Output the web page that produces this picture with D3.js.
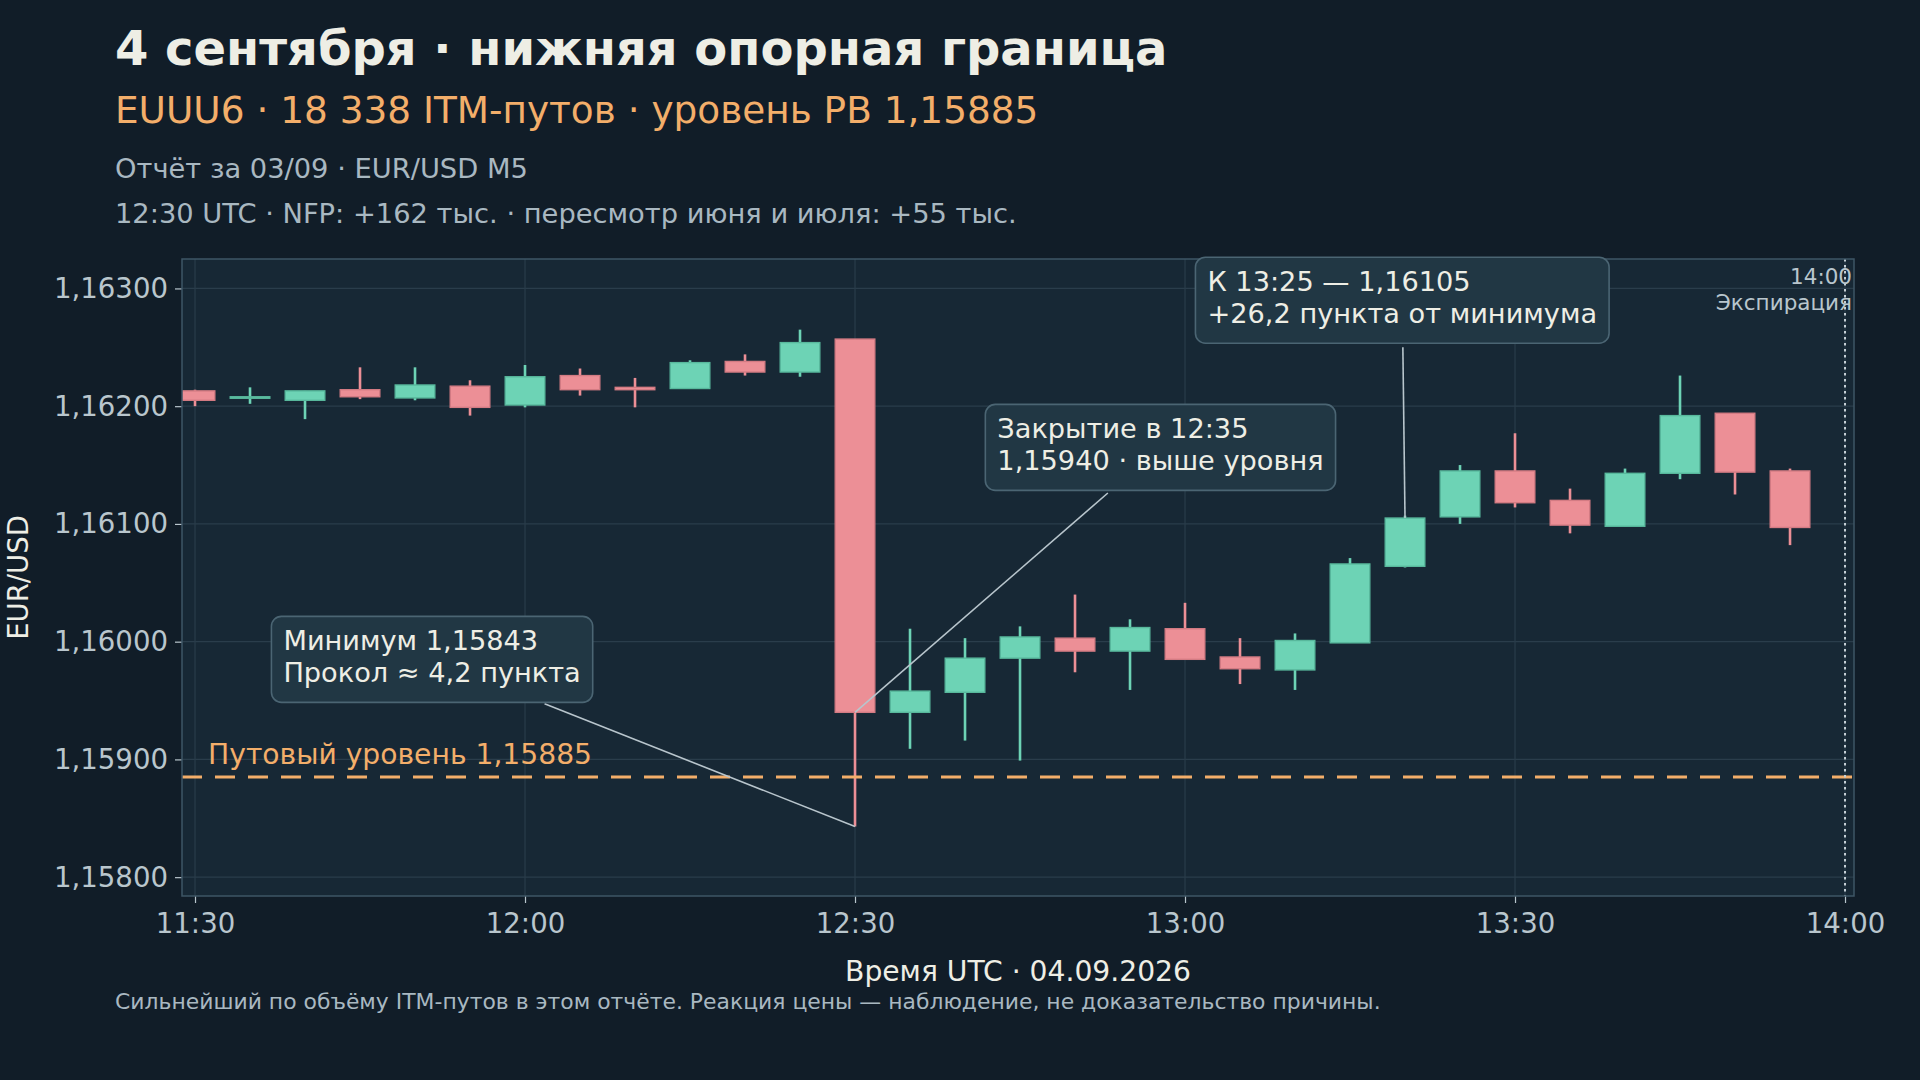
<!DOCTYPE html>
<html lang="ru">
<head>
<meta charset="utf-8">
<title>EUUU6 · нижняя опорная граница</title>
<script src="https://cdn.jsdelivr.net/npm/d3@7"></script>
<style>
  html, body { margin: 0; padding: 0; background: #111d28; }
  #chart svg { display: block; }
</style>
</head>
<body>
<div id="chart"></div>
<script>
// 5-минутные свечи EUR/USD, 04.09.2026
const times  = ['11:30','11:35','11:40','11:45','11:50','11:55','12:00','12:05','12:10','12:15',
                '12:20','12:25','12:30','12:35','12:40','12:45','12:50','12:55','13:00','13:05',
                '13:10','13:15','13:20','13:25','13:30','13:35','13:40','13:45','13:50','13:55'];
const opens  = [1.16213,1.16207,1.16205,1.16214,1.16207,1.16217,1.16201,1.16226,1.16216,1.16215,
                1.16238,1.16229,1.16257,1.15940,1.15957,1.15986,1.16003,1.15992,1.16011,1.15987,
                1.15976,1.15999,1.16064,1.16106,1.16145,1.16120,1.16098,1.16143,1.16194,1.16145];
const highs  = [1.16214,1.16216,1.16213,1.16233,1.16233,1.16222,1.16235,1.16232,1.16224,1.16239,
                1.16244,1.16265,1.16257,1.16011,1.16003,1.16013,1.16040,1.16019,1.16033,1.16003,
                1.16007,1.16071,1.16107,1.16150,1.16177,1.16130,1.16147,1.16226,1.16194,1.16147];
const lows   = [1.16200,1.16202,1.16189,1.16206,1.16205,1.16192,1.16199,1.16209,1.16199,1.16215,
                1.16226,1.16225,1.15843,1.15909,1.15916,1.15899,1.15974,1.15959,1.15985,1.15964,
                1.15959,1.15999,1.16063,1.16100,1.16114,1.16092,1.16098,1.16138,1.16125,1.16082];
const closes = [1.16205,1.16208,1.16213,1.16208,1.16218,1.16199,1.16225,1.16214,1.16214,1.16237,
                1.16229,1.16254,1.15940,1.15958,1.15986,1.16004,1.15992,1.16012,1.15985,1.15977,
                1.16001,1.16066,1.16105,1.16145,1.16118,1.16099,1.16143,1.16192,1.16144,1.16097];

const putLevel = 1.15885;
const expiry = '14:00';
const xDomain = ['11:28:49', '14:00:49'];
const yDomain = [1.15784, 1.16325];
const yTicks = [1.158, 1.159, 1.160, 1.161, 1.162, 1.163];
const xTicks = ['11:30', '12:00', '12:30', '13:00', '13:30', '14:00'];

const notes = [
  { lines: ['Минимум 1,15843', 'Прокол ≈ 4,2 пункта'],           at: ['11:51:33', 1.15985], target: ['12:30', 1.15843] },
  { lines: ['Закрытие в 12:35', '1,15940 · выше уровня'],         at: ['12:57:46', 1.16165], target: ['12:30', 1.15940] },
  { lines: ['К 13:25 — 1,16105', '+26,2 пункта от минимума'],     at: ['13:19:45', 1.16290], target: ['13:20', 1.16105] }
];

const parseTime = s => d3.utcParse('%Y-%m-%d %H:%M:%S')('2026-09-04 ' + (s.length === 5 ? s + ':00' : s));

const candles = times.map((t, i) => ({
  t: parseTime(t), o: opens[i], h: highs[i], l: lows[i], c: closes[i]
}));

const W = 1920, H = 1080;
const margin = { top: 259, right: 66, bottom: 184, left: 182 };
const iw = W - margin.left - margin.right;
const ih = H - margin.top - margin.bottom;

const C = {
  bg: '#111d28', plot: '#172835', grid: '#2a3d4b', frame: '#3e5665',
  tick: '#b9c6cd', title: '#eeeee5', orange: '#f3ae6a', muted: '#a9b8c1',
  up: '#6dd3b5', upEdge: '#58b89c', down: '#ec8f96', downEdge: '#d37b83',
  boxFill: '#213744', boxEdge: '#4b6573', pointer: '#b8c5cc'
};
const font = "'DejaVu Sans', sans-serif";

const svg = d3.select('#chart').append('svg')
  .attr('width', W).attr('height', H)
  .attr('viewBox', [0, 0, W, H])
  .style('font-family', font);

svg.append('rect').attr('width', W).attr('height', H).attr('fill', C.bg);

// Заголовки
const head = [
  { text: '4 сентября · нижняя опорная граница', y: 65, size: 48, weight: 'bold', fill: C.title },
  { text: 'EUUU6 · 18 338 ITM-путов · уровень РВ 1,15885', y: 123, size: 37.4, weight: 'normal', fill: C.orange },
  { text: 'Отчёт за 03/09 · EUR/USD M5', y: 178, size: 27.3, weight: 'normal', fill: C.muted },
  { text: '12:30 UTC · NFP: +162 тыс. · пересмотр июня и июля: +55 тыс.', y: 223, size: 27.3, weight: 'normal', fill: C.muted }
];
svg.append('g').selectAll('text').data(head).join('text')
  .attr('x', 115).attr('y', d => d.y)
  .attr('font-size', d => d.size).attr('font-weight', d => d.weight)
  .attr('fill', d => d.fill)
  .text(d => d.text);

const x = d3.scaleUtc().domain(xDomain.map(parseTime)).range([0, iw]);
const y = d3.scaleLinear().domain(yDomain).range([ih, 0]);

const g = svg.append('g').attr('transform', `translate(${margin.left},${margin.top})`);

g.append('rect').attr('width', iw).attr('height', ih).attr('fill', C.plot);

g.append('clipPath').attr('id', 'plot-clip')
  .append('rect').attr('width', iw).attr('height', ih);

// Сетка
g.append('g').selectAll('line').data(yTicks).join('line')
  .attr('x1', 0).attr('x2', iw)
  .attr('y1', d => y(d)).attr('y2', d => y(d))
  .attr('stroke', C.grid).attr('stroke-width', 1.2);
g.append('g').selectAll('line').data(xTicks.map(parseTime)).join('line')
  .attr('x1', d => x(d)).attr('x2', d => x(d))
  .attr('y1', 0).attr('y2', ih)
  .attr('stroke', C.grid).attr('stroke-width', 1.2);

// Оси
const fmtPrice = d => d3.format('.5f')(d).replace('.', ',');
const yAxis = g.append('g')
  .call(d3.axisLeft(y).tickValues(yTicks).tickFormat(fmtPrice).tickSize(7).tickPadding(7));
const xAxis = g.append('g').attr('transform', `translate(0,${ih})`)
  .call(d3.axisBottom(x).tickValues(xTicks.map(parseTime)).tickFormat(d3.utcFormat('%H:%M')).tickSize(7).tickPadding(10));
[yAxis, xAxis].forEach(a => {
  a.select('.domain').remove();
  a.selectAll('.tick line').attr('stroke', C.tick).attr('stroke-width', 1.2);
  a.selectAll('.tick text').attr('fill', C.tick).attr('font-size', 27.6).attr('font-family', font);
});

// Свечи
const step = 5 * 60 * 1000;
const bw = (x(new Date(+candles[0].t + step)) - x(candles[0].t)) * 0.72;
const cg = g.append('g').attr('clip-path', 'url(#plot-clip)');
const candle = cg.selectAll('g').data(candles).join('g');
candle.append('line')
  .attr('x1', d => x(d.t)).attr('x2', d => x(d.t))
  .attr('y1', d => y(d.h)).attr('y2', d => y(d.l))
  .attr('stroke', d => d.c >= d.o ? C.up : C.down)
  .attr('stroke-width', 2.6);
candle.append('rect')
  .attr('x', d => x(d.t) - bw / 2)
  .attr('width', bw)
  .attr('y', d => y(Math.max(d.o, d.c)))
  .attr('height', d => Math.max(1.5, Math.abs(y(d.o) - y(d.c))))
  .attr('fill', d => d.c >= d.o ? C.up : C.down)
  .attr('stroke', d => d.c >= d.o ? C.upEdge : C.downEdge)
  .attr('stroke-width', 1.4);

// Путовый уровень
g.append('line')
  .attr('x1', 0).attr('x2', iw)
  .attr('y1', y(putLevel)).attr('y2', y(putLevel))
  .attr('stroke', C.orange).attr('stroke-width', 3)
  .attr('stroke-dasharray', '20,13');
g.append('text')
  .attr('x', 26).attr('y', y(putLevel) - 13)
  .attr('fill', C.orange).attr('font-size', 28.2)
  .text('Путовый уровень ' + fmtPrice(putLevel));

// Экспирация
const ex = x(parseTime(expiry));
g.append('line')
  .attr('x1', ex).attr('x2', ex).attr('y1', 0).attr('y2', ih)
  .attr('stroke', '#c6d0d6').attr('stroke-width', 2)
  .attr('stroke-dasharray', '2.5,3.5');
g.append('text')
  .attr('x', ex + 7).attr('y', 25)
  .attr('text-anchor', 'end').attr('fill', C.tick).attr('font-size', 21.5)
  .text(expiry);
g.append('text')
  .attr('x', ex + 7).attr('y', 51)
  .attr('text-anchor', 'end').attr('fill', C.tick).attr('font-size', 21.5)
  .text('Экспирация');

// Рамка
g.append('rect').attr('width', iw).attr('height', ih)
  .attr('fill', 'none').attr('stroke', C.frame).attr('stroke-width', 1.5);

// Аннотации
const ng = g.append('g');
notes.forEach(n => {
  const cx = x(parseTime(n.at[0])), cy = y(n.at[1]);
  const tx = x(parseTime(n.target[0])), ty = y(n.target[1]);
  const grp = ng.append('g');
  const lineEl = grp.append('line');
  const rect = grp.append('rect');
  const txt = grp.append('g');
  const texts = txt.selectAll('text').data(n.lines).join('text')
    .attr('fill', C.title).attr('font-size', 27.2)
    .text(d => d);
  const tw = d3.max(texts.nodes(), el => el.getComputedTextLength());
  const bwid = tw + 24, bh = 86;
  const left = cx - bwid / 2, top = cy - bh / 2;
  texts.attr('x', left + 12).attr('y', (d, i) => top + 34 + i * 32);
  rect.attr('x', left).attr('y', top).attr('width', bwid).attr('height', bh)
    .attr('rx', 10).attr('fill', C.boxFill).attr('stroke', C.boxEdge).attr('stroke-width', 1.6);

  // линия от края рамки к точке
  const dx = tx - cx, dy = ty - cy;
  const t = Math.min(dx ? (bwid / 2) / Math.abs(dx) : Infinity, dy ? (bh / 2) / Math.abs(dy) : Infinity);
  const len = Math.hypot(dx, dy);
  const sx = cx + dx * t + dx / len * 4, sy = cy + dy * t + dy / len * 4;
  lineEl.attr('x1', sx).attr('y1', sy).attr('x2', tx).attr('y2', ty)
    .attr('stroke', C.pointer).attr('stroke-width', 1.6);
});

// Подписи осей
svg.append('text')
  .attr('x', margin.left + iw / 2).attr('y', 981)
  .attr('text-anchor', 'middle').attr('fill', C.title).attr('font-size', 28.2)
  .text('Время UTC · 04.09.2026');
svg.append('text')
  .attr('transform', `translate(28,${margin.top + ih / 2}) rotate(-90)`)
  .attr('text-anchor', 'middle').attr('fill', C.title).attr('font-size', 27.5)
  .text('EUR/USD');

svg.append('text')
  .attr('x', 115).attr('y', 1009)
  .attr('fill', C.muted).attr('font-size', 21.9)
  .text('Сильнейший по объёму ITM-путов в этом отчёте. Реакция цены — наблюдение, не доказательство причины.');
</script>
</body>
</html>
